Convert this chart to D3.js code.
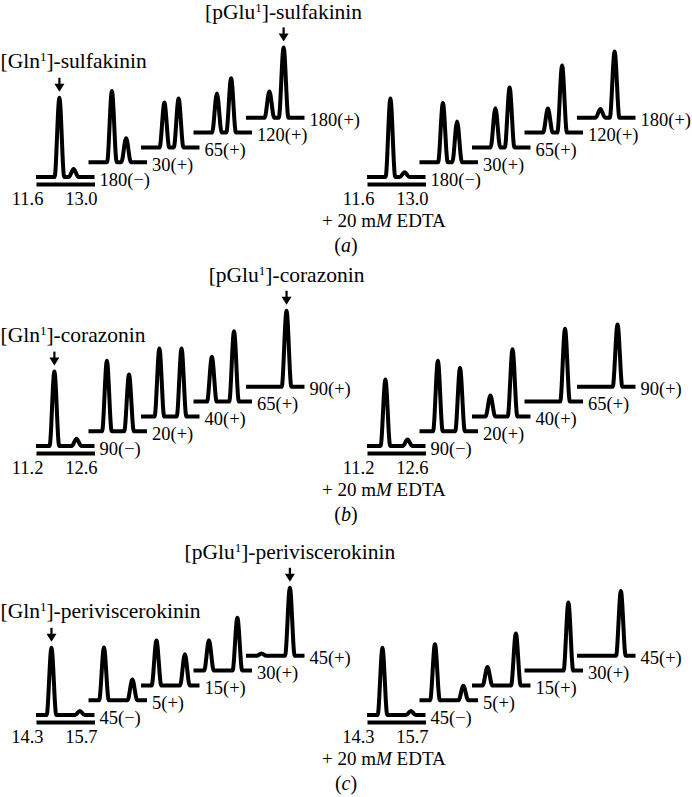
<!DOCTYPE html>
<html><head><meta charset="utf-8">
<script src="https://cdn.jsdelivr.net/npm/d3@7"></script>
<style>body{margin:0;background:#fff}svg{display:block}</style>
</head><body><svg id="c" width="692" height="797"></svg>
<script>
// ---------- data ----------
const panelIds = ["a", "b", "c"];
const compounds = ["sulfakinin", "corazonin", "periviscerokinin"];
const timeWindows = [[11.6, 13.0], [11.2, 12.6], [14.3, 15.7]];
const tickLabels = [["11.6", "13.0"], ["11.2", "12.6"], ["14.3", "15.7"]];
const retentionGln = [12.16, 11.64, 14.67];
const retentionPGlu = [12.50, 12.17, 15.35];
const timeLabelsA = ["180(\u2212)", "30(+)", "65(+)", "120(+)", "180(+)"];
const timeLabelsB = ["90(\u2212)", "20(+)", "40(+)", "65(+)", "90(+)"];
const timeLabelsC = ["45(\u2212)", "5(+)", "15(+)", "30(+)", "45(+)"];
// relative peak heights (%), one value per trace, left = no EDTA, right = + 20 mM EDTA
const glnA      = [99, 89, 56, 49, 33];
const pgluA     = [10, 30, 61, 68, 88];
const glnAEdta  = [98, 74, 49, 30, 11];
const pgluAEdta = [6, 51, 75, 84, 83];
const glnB      = [93, 88, 85, 56, 0];
const pgluB     = [9, 71, 85, 88, 95];
const glnBEdta  = [83, 88, 26, 0, 0];
const pgluBEdta = [8, 79, 84, 91, 78];
const glnC      = [84, 66, 56, 38, 3];
const pgluC     = [5, 26, 39, 66, 85];
const glnCEdta  = [84, 70, 23, 0, 0];
const pgluCEdta = [5, 18, 65, 85, 81];

const timeLabels = [timeLabelsA, timeLabelsB, timeLabelsC];
const heights = [
  [[glnA, pgluA], [glnAEdta, pgluAEdta]],
  [[glnB, pgluB], [glnBEdta, pgluBEdta]],
  [[glnC, pgluC], [glnCEdta, pgluCEdta]]
];

// ---------- layout ----------
const baseY = [177, 446, 715];
const groupX = [36, 367];
const traceW = 58.5, stepX = 52.5, stepY = 14.8, peakPx = 80;
const peakFoot = 0.115; // minutes, half-width of a peak base
const serif = "'Liberation Serif','Times New Roman',serif";

const svg = d3.select("#c");
const line = d3.line().curve(d3.curveMonotoneX);

panelIds.forEach((pid, p) => {
  const B = baseY[p];
  const g = svg.append("g");
  let glnApex = null, pgluApex = null;

  groupX.forEach((gx, side) => {
    const [glnH, pgluH] = heights[p][side];
    for (let i = 0; i < 5; i++) {
      const x = d3.scaleLinear().domain(timeWindows[p]).range([gx + i * stepX, gx + i * stepX + traceW]);
      const y = d3.scaleLinear().domain([0, 100]).range([B - i * stepY, B - i * stepY - peakPx]);
      const pts = [[timeWindows[p][0], 0]];
      [[retentionGln[p], glnH[i]], [retentionPGlu[p], pgluH[i]]].forEach(([t, h]) => {
        if (h > 0) pts.push([t - peakFoot, 0], [t, h], [t + peakFoot, 0]);
      });
      pts.push([timeWindows[p][1], 0]);
      g.append("path")
        .attr("d", line(pts.map(d => [x(d[0]), y(d[1])])))
        .attr("fill", "none").attr("stroke", "#000")
        .attr("stroke-width", 4).attr("stroke-linejoin", "round");
      g.append("text")
        .attr("x", x(timeWindows[p][1]) + 5).attr("y", y(0) + 8.5)
        .attr("font-family", serif).attr("font-size", 18.5)
        .text(timeLabels[p][i]);
      if (side === 0 && i === 0) glnApex = [x(retentionGln[p]), y(glnH[i])];
      if (side === 0 && i === 4) pgluApex = [x(retentionPGlu[p]), y(pgluH[i])];
      if (i === 0) {
        // retention time axis bar
        const ax = g.append("g").attr("transform", `translate(0,${B + 7})`)
          .call(d3.axisBottom(x).tickValues(timeWindows[p]).tickSize(0).tickPadding(0)
            .tickFormat((d, k) => tickLabels[p][k]));
        ax.select(".domain").attr("stroke", "#000").attr("stroke-width", 4);
        ax.selectAll(".tick line").remove();
        ax.selectAll(".tick text")
          .attr("font-family", serif).attr("font-size", 18.5).attr("fill", "#000")
          .attr("text-anchor", "end")
          .attr("dy", null).attr("y", 21)
          .attr("dx", (d, k) => k === 0 ? 7 : 2.5);
        if (side === 1) {
          const t = g.append("text").attr("x", x(timeWindows[p][0]) - 45).attr("y", B + 50)
            .attr("font-family", serif).attr("font-size", 19);
          t.append("tspan").text("+ 20 m");
          t.append("tspan").attr("font-style", "italic").text("M");
          t.append("tspan").text(" EDTA");
        }
      }
    }
  });

  // arrows + compound labels
  const arrow = (ax, apexY) => {
    const tip = apexY - 6, top = tip - 14;
    g.append("line").attr("x1", ax).attr("x2", ax).attr("y1", top).attr("y2", tip - 6)
      .attr("stroke", "#000").attr("stroke-width", 2.2);
    g.append("path").attr("d", `M${ax - 5},${tip - 8}L${ax + 5},${tip - 8}L${ax},${tip}Z`).attr("fill", "#000");
    return top;
  };
  const topGln = arrow(glnApex[0], glnApex[1]);
  const topPGlu = arrow(pgluApex[0], pgluApex[1]);
  const label = (txt, xx, yy, anchor) => {
    const t = g.append("text").attr("x", xx).attr("y", yy).attr("text-anchor", anchor)
      .attr("font-family", serif).attr("font-size", 21.5);
    t.append("tspan").text("[" + txt[0]);
    t.append("tspan").attr("font-size", 13).attr("dy", -7).text("1");
    t.append("tspan").attr("dy", 7).text("]-" + compounds[p]);
  };
  label(["Gln"], 0.5, topGln - 10, "start");
  label(["pGlu"], pgluApex[0], Math.max(topPGlu - 9, 19), "middle");

  // panel letter
  const pl = g.append("text").attr("x", 346).attr("y", B + 75).attr("text-anchor", "middle")
    .attr("font-family", serif).attr("font-size", 20);
  pl.append("tspan").text("(");
  pl.append("tspan").attr("font-style", "italic").text(pid);
  pl.append("tspan").text(")");
});
</script></body></html>
